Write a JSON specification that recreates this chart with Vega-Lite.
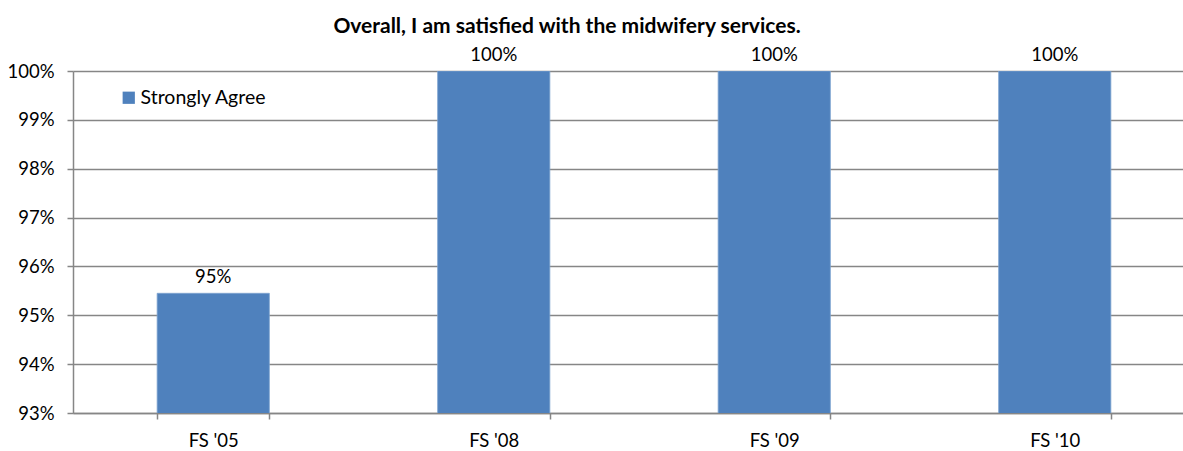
{
  "$schema": "https://vega.github.io/schema/vega-lite/v6.json",
  "autosize": {"type": "none"},
  "width": 1110,
  "height": 342,
  "padding": {"left": 73, "top": 71, "right": 0, "bottom": 38},
  "background": "white",
  "config": {
    "font": "Lato",
    "view": {"stroke": null},
    "axis": {"labelFont": "Lato", "labelColor": "#000000", "labelFontSize": 18.5}
  },
  "title": {
    "text": "Overall, I am satisfied with the midwifery services.",
    "font": "Lato",
    "fontSize": 21,
    "fontWeight": "bold",
    "color": "#000000",
    "anchor": "middle",
    "frame": "group",
    "dx": -61,
    "offset": 9
  },
  "data": {
    "values": [
      {"survey": "FS '05", "share": 0.9545, "response": "Strongly Agree"},
      {"survey": "FS '08", "share": 1.0, "response": "Strongly Agree"},
      {"survey": "FS '09", "share": 1.0, "response": "Strongly Agree"},
      {"survey": "FS '10", "share": 1.0, "response": "Strongly Agree"}
    ]
  },
  "encoding": {
    "x": {
      "field": "survey",
      "type": "nominal",
      "sort": null,
      "scale": {"range": [0, 1122], "paddingInner": 0.6, "paddingOuter": 0.3},
      "axis": {
        "title": null,
        "labelAngle": 0,
        "labelPadding": 12,
        "tickBand": "extent",
        "tickSize": 6,
        "tickColor": "#868686",
        "tickWidth": 1.5,
        "domainColor": "#868686",
        "domainWidth": 1.5,
        "grid": false
      }
    },
    "y": {
      "field": "share",
      "type": "quantitative",
      "scale": {"domain": [0.93, 1.0], "zero": false, "nice": false},
      "axis": {
        "title": null,
        "format": ".0%",
        "values": [0.93, 0.94, 0.95, 0.96, 0.97, 0.98, 0.99, 1.0],
        "tickSize": 6,
        "tickColor": "#868686",
        "tickWidth": 1.5,
        "labelPadding": 13,
        "domainColor": "#868686",
        "domainWidth": 1.5,
        "gridColor": "#868686",
        "gridWidth": 1.5
      }
    }
  },
  "layer": [
    {
      "mark": {"type": "bar", "clip": true, "stroke": "#7ea3d1", "strokeWidth": 0.8},
      "encoding": {
        "color": {
          "field": "response",
          "type": "nominal",
          "scale": {"range": ["#4F81BD"]},
          "legend": {
            "title": null,
            "orient": "none",
            "legendX": 46,
            "legendY": 17,
            "symbolType": "square",
            "symbolSize": 150,
            "symbolStrokeWidth": 0,
            "labelFont": "Lato",
            "labelFontSize": 19.5,
            "labelColor": "#000000",
            "labelOffset": 2
          }
        }
      }
    },
    {
      "mark": {"type": "text", "baseline": "bottom", "dy": -6, "fontSize": 18.5, "font": "Lato", "color": "#000000"},
      "encoding": {
        "text": {"field": "share", "type": "quantitative", "format": ".0%"}
      }
    }
  ]
}
